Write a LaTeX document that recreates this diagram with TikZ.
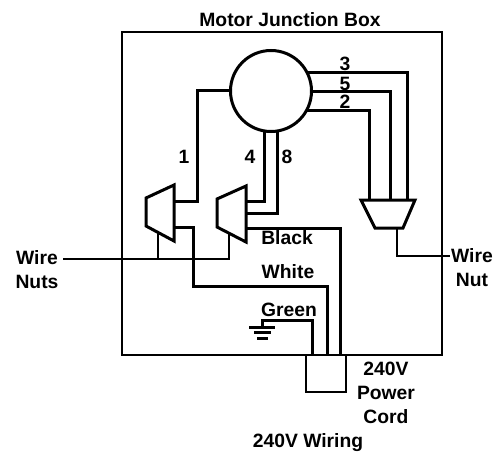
\documentclass[tikz,border=0pt]{standalone}
\usepackage{fontspec}
\setmainfont{Liberation Sans}
\usetikzlibrary{backgrounds}
\tikzset{
  thick wire/.style={line width=3pt,line join=miter},
  thin wire/.style={line width=1.7pt},
  frame line/.style={line width=2.3pt},
  wire label/.style={font=\bfseries\fontsize{19.3}{24}\selectfont,align=center,inner sep=0pt},
}
\begin{document}
\begin{tikzpicture}[x=1pt,y=-1pt]
    \useasboundingbox (0,0) rectangle (501,452);
    % Boxes
    \node[draw,frame line,minimum width=320pt,minimum height=323pt,inner sep=0pt] (box) at (282,193.5) {};
    \node[draw,frame line,minimum width=40pt,minimum height=37pt,inner sep=0pt] (cord) at (326,373.5) {};

    % Motor
    \node[circle,draw,thick wire,fill=white,minimum size=81pt,inner sep=0pt] (motor) at (271,91) {};

    % Nuts
    \draw[thick wire] (146,198) -- (174,185) -- (174,241) -- (146,226) -- cycle;
    \draw[thick wire] (217,199) -- (246,186) -- (246,242) -- (217,227) -- cycle;
    \draw[thick wire] (361,200) -- (415,200) -- (403,228) -- (375,228) -- cycle;

    % Junctions
    \coordinate (m1) at (232,91);
    \coordinate (m2) at (305,110);
    \coordinate (m3) at (307,73);
    \coordinate (m5) at (311,92);
    \coordinate (m4) at (264,130);
    \coordinate (m8) at (277,130);
    \coordinate (a1) at (174,201);
    \coordinate (a2) at (174,227);
    \coordinate (b1) at (246,201);
    \coordinate (b2) at (246,213);
    \coordinate (b3) at (246,228);
    \coordinate (c2) at (369,200);
    \coordinate (c5) at (390,200);
    \coordinate (c3) at (407,200);
    \coordinate (black) at (340,355);
    \coordinate (white) at (327,355);
    \coordinate (green) at (312,355);
    \coordinate (gnd) at (262,327);
    \coordinate (la) at (63,259);
    \coordinate (ta) at (158,233);
    \coordinate (tb) at (229,233);
    \coordinate (tc) at (397,228);
    \coordinate (rc) at (450,256);

    % Wires
    \begin{scope}[on background layer]
        \draw[thick wire] (m1) -| (197,201) -- (a1);
        \draw[thick wire] (m4) |- (b1);
        \draw[thick wire] (m8) |- (b2);
        \draw[thick wire] (m3) -| (c3);
        \draw[thick wire] (m5) -| (c5);
        \draw[thick wire] (m2) -| (c2);
        \draw[thick wire] (b3) -| (black);
        \draw[thick wire] (a2) -| (193,286) -| (white);
        \draw[thick wire] (green) |- (262,320) -- (gnd);
    \end{scope}

    % Ground
    \draw[thick wire] (249,327) -- (275,327);
    \draw[thick wire] (254,332.5) -- (271,332.5);
    \draw[thick wire] (257,338) -- (268,338);

    % Leaders
    \draw[thin wire] (la) -| (tb);
    \draw[thin wire] (ta) -- (158,259);
    \draw[thin wire] (tc) |- (rc);

    % Labels
    \node[wire label] (title) at (290,20) {Motor Junction Box};
    \node[wire label] (n3) at (345,64) {3};
    \node[wire label] (n5) at (345,84) {5};
    \node[wire label] (n2) at (345,102) {2};
    \node[wire label] (n1) at (184,157) {1};
    \node[wire label] (n4) at (250,157) {4};
    \node[wire label] (n8) at (287,157) {8};
    \node[wire label] (lblack) at (287,238) {Black};
    \node[wire label] (lwhite) at (288,272) {White};
    \node[wire label] (lgreen) at (289,310) {Green};
    \node[wire label] (lnuts) at (37,270) {Wire\\Nuts};
    \node[wire label] (lnut) at (472,268) {Wire\\Nut};
    \node[wire label] (lcord) at (386,393) {240V\\Power\\Cord};
    \node[wire label] (caption) at (308,443) {240V Wiring};
\end{tikzpicture}
\end{document}
